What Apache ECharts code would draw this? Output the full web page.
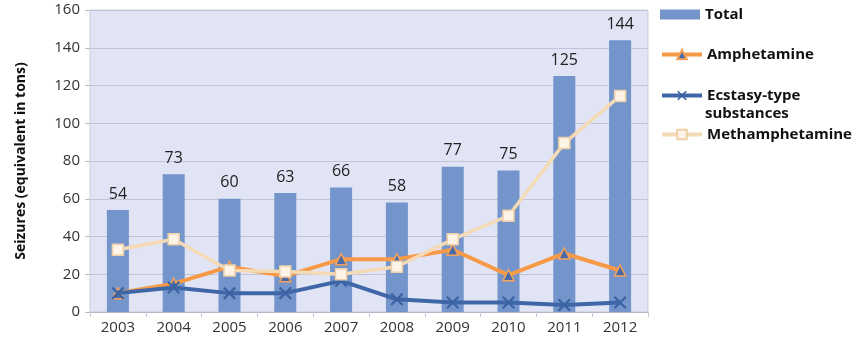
<!DOCTYPE html>
<html><head><meta charset="utf-8">
<script src="https://cdn.jsdelivr.net/npm/echarts@6/dist/echarts.min.js"></script>
<style>html,body{margin:0;padding:0;background:#fff}#c{width:858px;height:346px}</style>
</head><body><div id="c"></div>
<script>
const years = ['2003','2004','2005','2006','2007','2008','2009','2010','2011','2012'];
const total = [54,73,60,63,66,58,77,75,125,144];
const amphetamine = [10,15,24,19,28,28,33,19.5,31,22];
const ecstasy = [10,13,10,10,16.5,6.7,5,5,3.7,5];
const methamphetamine = [33,38.5,22,21.5,20,24,38.5,51,89.5,114.5];
const yTicks = [0,20,40,60,80,100,120,140,160];

const FONT = '"Open Sans", "Noto Sans", sans-serif';
const xPath = 'path://M0,1.2 L1.2,0 L5,3.8 L8.8,0 L10,1.2 L6.2,5 L10,8.8 L8.8,10 L5,6.2 L1.2,10 L0,8.8 L3.8,5 Z';

const chart = echarts.init(document.getElementById('c'));
const legendText = {fontFamily: FONT, fontSize: 15, fontWeight: 'bold', color: '#111'};
const legendBase = {
  orient: 'vertical', left: 660, itemWidth: 40, itemHeight: 12, padding: 0,
  textStyle: legendText, selectedMode: false
};
chart.setOption({
  animation: false,
  legend: [
    Object.assign({}, legendBase, {top: 7, data: [{name: 'Total', icon: 'rect', itemStyle:{color:'#7395cb'}}], itemHeight: 10}),
    Object.assign({}, legendBase, {top: 47, data: [{name: 'Amphetamine', lineStyle: {width: 4}}]}),
    Object.assign({}, legendBase, {top: 88, data: [{name: 'Ecstasy-type substances', lineStyle: {width: 4}}],
      formatter: () => 'Ecstasy-type'}),
    Object.assign({}, legendBase, {top: 127, data: [{name: 'Methamphetamine', lineStyle: {width: 4}}]})
  ],
  graphic: [{type: 'text', left: 705, top: 106,
    style: {text: 'substances', font: 'bold 15px ' + FONT, fill: '#111'}}],
  grid: {left: 90, right: 210, top: 10, bottom: 34, show: true, backgroundColor: '#e1e4f4', borderColor: '#c9cbdb', borderWidth: 1},
  xAxis: {
    type: 'category', data: years,
    axisLine: {lineStyle: {color: '#b5b7c4'}},
    axisTick: {show: true, alignWithLabel: false, length: 5, lineStyle: {color: '#c6c8d0'}},
    axisLabel: {fontFamily: FONT, fontSize: 15, color: '#333', margin: 8}
  },
  yAxis: {
    type: 'value', min: 0, max: 160, interval: 20,
    name: 'Seizures (equivalent in tons)', nameLocation: 'middle', nameGap: 62,
    nameTextStyle: {fontFamily: FONT, fontSize: 14, fontWeight: 'bold', color: '#111'},
    axisLine: {show: false},
    axisTick: {show: true, length: 5, lineStyle: {color: '#b8bac6'}},
    axisLabel: {fontFamily: FONT, fontSize: 15, color: '#333', margin: 10,
      formatter: v => yTicks.includes(v) ? String(v) : ''},
    splitLine: {lineStyle: {color: '#c2c5d6', width: 1}}
  },
  series: [
    {name: 'Total', type: 'bar', data: total, barWidth: 22,
      itemStyle: {color: '#7395cb'},
      label: {show: true, position: 'top', distance: 8, fontFamily: FONT, fontSize: 16, color: '#222'}},
    {name: 'Amphetamine', type: 'line', data: amphetamine, z: 3,
      lineStyle: {color: '#f79a48', width: 4},
      symbol: 'triangle', symbolSize: 11,
      itemStyle: {color: '#4a69a6', borderColor: '#f5a25a', borderWidth: 1.5}},
    {name: 'Ecstasy-type substances', type: 'line', data: ecstasy, z: 4,
      lineStyle: {color: '#3f67a8', width: 4},
      symbol: xPath, symbolSize: 13,
      itemStyle: {color: '#3b63a3', borderWidth: 0}},
    {name: 'Methamphetamine', type: 'line', data: methamphetamine, z: 5,
      lineStyle: {color: '#f5dab6', width: 3.5},
      symbol: 'rect', symbolSize: 11,
      itemStyle: {color: '#fdf3e6', borderColor: '#efd0a8', borderWidth: 1.5}}
  ]
});
</script></body></html>
